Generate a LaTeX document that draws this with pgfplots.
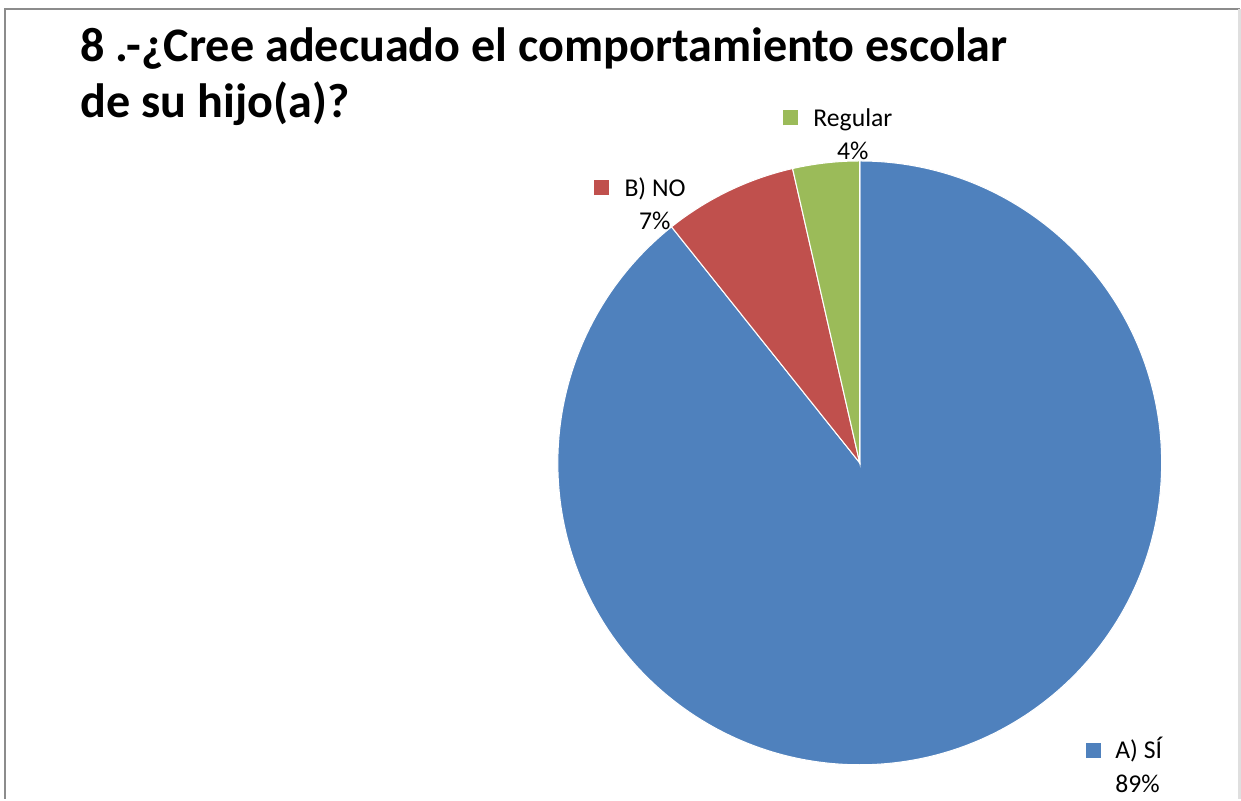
\documentclass[border=0pt]{standalone}
\usepackage{fontspec}
\setmainfont{Carlito}
\usepackage{pgfplots}
\pgfplotsset{compat=1.18}
\usepackage{pgfplotstable}

\definecolor{pieA}{HTML}{4F81BD}
\definecolor{pieB}{HTML}{C0504D}
\definecolor{pieC}{HTML}{9BBB59}
\definecolor{frame}{HTML}{8C8C8C}

% counts per answer (25 + 2 + 1 = 28)
\pgfplotstableread[col sep=comma]{
label,value,color
A) SÍ,25,pieA
B) NO,2,pieB
Regular,1,pieC
}\piedata

\begin{document}
\begin{tikzpicture}
\begin{axis}[
  scale only axis, width=12.41cm, height=7.99cm,
  xmin=0, xmax=1241, ymin=0, ymax=799, y dir=reverse,
  hide axis, clip=false
]
\path (axis cs:0,0) rectangle (axis cs:1241,799);
% frame
\draw[frame, line width=0.8pt] (axis cs:5,799) -- (axis cs:5,9) -- (axis cs:1240,9);
\draw[gray!25, line width=0.8pt] (axis cs:1240,9) -- (axis cs:1240,799);

% slices, clockwise from 12 o'clock
\def\total{0}
\pgfplotsforeachungrouped \i in {0,...,2}{%
  \pgfplotstablegetelem{\i}{value}\of\piedata
  \pgfmathsetmacro\total{\total+\pgfplotsretval}%
}
\def\cum{0}
\pgfplotsforeachungrouped \i in {0,...,2}{%
  \pgfplotstablegetelem{\i}{value}\of\piedata \let\v\pgfplotsretval
  \pgfplotstablegetelem{\i}{color}\of\piedata \let\c\pgfplotsretval
  \pgfmathsetmacro\a{90-360*\cum/\total}%
  \pgfmathsetmacro\b{90-360*(\cum+\v)/\total}%
  \pgfmathsetmacro\cum{\cum+\v}%
  \edef\temp{\noexpand\fill[\c, draw=white, line width=0.3pt]
    (axis cs:860,463) -- ++(\a:3.02cm)
    arc[start angle=\a, end angle=\b, radius=3.02cm] -- cycle;}%
  \temp
}

% title
\node[anchor=base west, inner sep=0pt, font=\fontsize{13.7pt}{16pt}\selectfont\bfseries]
  at (axis cs:80,62) {8 .-¿Cree adecuado el comportamiento escolar};
\node[anchor=base west, inner sep=0pt, font=\fontsize{13.7pt}{16pt}\selectfont\bfseries]
  at (axis cs:80,118) {de su hijo(a)?};

% data labels
\tikzset{lbl/.style={inner sep=0pt, font=\fontsize{7.3pt}{9pt}\selectfont}}
\node[lbl, anchor=south east] at (axis cs:799,126) {\textcolor{pieC}{\rule{0.15cm}{0.15cm}}};
\node[lbl, anchor=base west] at (axis cs:813,127) {Regular};
\node[lbl, anchor=base] at (axis cs:853,160) {4\%};
\node[lbl, anchor=south east] at (axis cs:610,196) {\textcolor{pieB}{\rule{0.15cm}{0.15cm}}};
\node[lbl, anchor=base west] at (axis cs:624,197) {B) NO};
\node[lbl, anchor=base] at (axis cs:655,230) {7\%};
\node[lbl, anchor=south east] at (axis cs:1102,759) {\textcolor{pieA}{\rule{0.15cm}{0.15cm}}};
\node[lbl, anchor=base west] at (axis cs:1115,759) {A) SÍ};
\node[lbl, anchor=base] at (axis cs:1138,793) {89\%};
\end{axis}
\end{tikzpicture}
\end{document}
